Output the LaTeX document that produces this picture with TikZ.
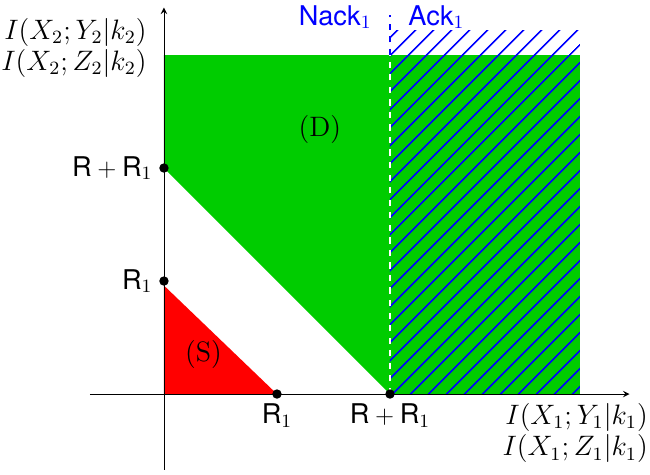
\documentclass[tikz,border=0pt]{standalone}
\usepackage{amsmath}
\usepackage{graphicx}
\usepackage{fontspec}
\setsansfont{TeX Gyre Heros}
\usetikzlibrary{patterns.meta}
\definecolor{regiongreen}{RGB}{0,204,0}
\newcommand{\bigtxt}[1]{\scalebox{1.12}{#1}}
\tikzset{
  pt/.style={circle,fill=black,inner sep=0pt,minimum size=4.5pt},
  hatch/.style={pattern={Lines[angle=45,distance=6.4pt,line width=0.9pt]},pattern color=blue},
  sanslbl/.style={font=\fontsize{13}{15}\selectfont\sffamily},
  axislbl/.style={anchor=north east,align=right,inner sep=0pt},
}
\begin{document}
\begin{tikzpicture}[x=1.9cm,y=1.9cm,font=\fontsize{12}{15}\selectfont, line join=round, >=stealth]
			\useasboundingbox (-1.451,-0.708) rectangle (4.301,3.487);
			% regions
			\fill[regiongreen] (0,2) -- (0,3) -- (3.68,3) -- (3.68,0) -- (2,0) -- cycle;
			\fill[red] (0,0) -- (0,0.96) -- (1,0) -- cycle;
			\path[hatch] (2,0) rectangle (3.68,3.22);
			\draw[white,dashed,thick] (2,0) -- (2,3);
			\draw[blue,dashed,thick] (2,3) -- (2,3.35);
			% axes
			\draw[->] (-0.655,0) -- (4.12,0);
			\draw[->] (0,-0.67) -- (0,3.42);
			% points
			\node[pt] (x1) at (1,0) {};
			\node[pt] (x2) at (2,0) {};
			\node[pt] (y1) at (0,1) {};
			\node[pt] (y2) at (0,2) {};
			\node[sanslbl,below=1pt] at (x1) {R$_1$};
			\node[sanslbl,below=1pt] at (x2) {$\textsf{R}+\textsf{R}_1$};
			\node[sanslbl,left=2pt] at (y1) {R$_1$};
			\node[sanslbl,left=2pt] at (y2) {$\textsf{R}+\textsf{R}_1$};
			% region names
			\node at (1.38,2.34) {\bigtxt{(D)}};
			\node at (0.35,0.35) {\bigtxt{(S)}};
			\node[sanslbl,blue,anchor=base east,inner sep=0pt] at (1.84,3.265) {Nack$_1$};
			\node[sanslbl,blue,anchor=base west,inner sep=0pt] at (2.16,3.265) {Ack$_1$};
			% axis labels
			\node[axislbl] at (4.285,-0.08)
				{\bigtxt{$I(X_1;Y_1|k_1)$}\\\bigtxt{$I(X_1;Z_1|k_1)$}};
			\node[axislbl] at (-0.15,3.33)
				{\bigtxt{$I(X_2;Y_2|k_2)$}\\\bigtxt{$I(X_2;Z_2|k_2)$}};
		\end{tikzpicture}
\end{document}
